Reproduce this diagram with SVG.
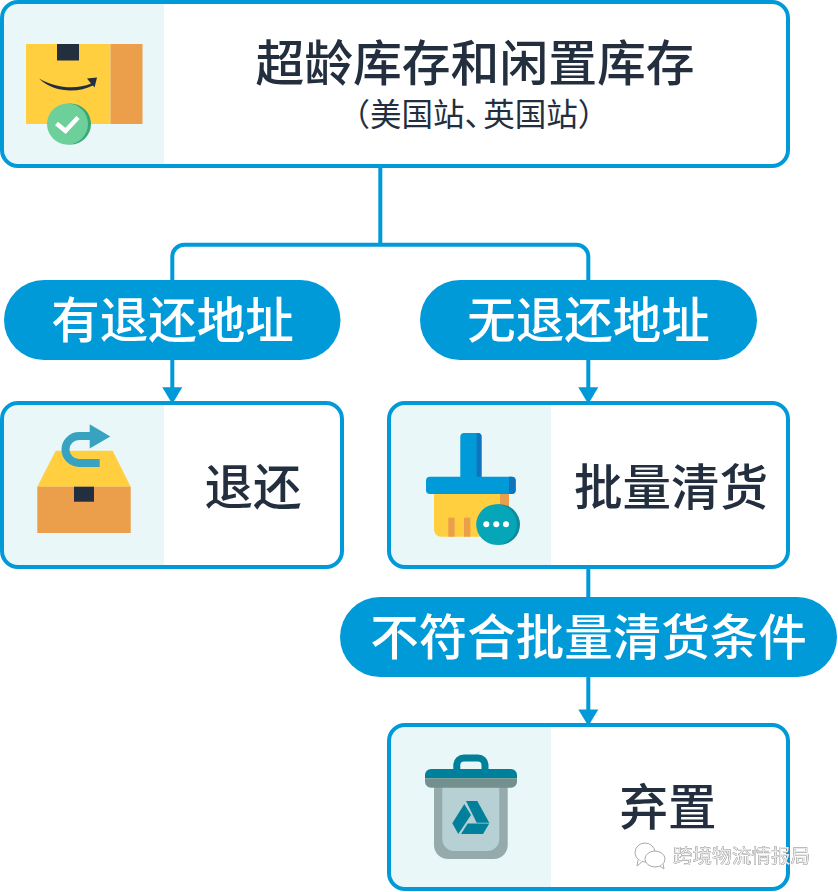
<svg xmlns="http://www.w3.org/2000/svg" width="838" height="892" viewBox="0 0 838 892">
<style>
text{font-family:"Noto Sans CJK SC","Noto Sans",sans-serif;text-anchor:middle;font-weight:500}
.lbl{font-size:48.500px;fill:#232f3e}
.pilltx{font-size:48.500px;fill:#fff}
.sub{font-size:31.500px;fill:#232f3e;font-weight:400;text-anchor:start}
.half{font-feature-settings:"halt"}
.frame{fill:none;stroke:#019ad9;stroke-width:4}
.pane{fill:#e9f7f9}
.pill{fill:#019ad9}
.conn{fill:none;stroke:#019ad9;stroke-width:4}
.head{fill:#019ad9}
.wm{fill:#e8e8e8;font-size:19.6px;filter:drop-shadow(.8px .8px .3px #222)}
.wi{fill:#fff;stroke:#aaa;stroke-width:1}
</style>
<rect width="838" height="892" fill="#fff"/>
<g id="connectors">
<path class="conn" d="M380.3 166V244.7"/>
<path class="conn" d="M172.3 280V256.7a12 12 0 0 1 12-12H576.3a12 12 0 0 1 12 12V280"/>
<path class="conn" d="M172.3 360V390"/>
<path class="conn" d="M588.3 360V390"/>
<path class="conn" d="M588.3 567V597"/>
<path class="conn" d="M588.3 677V712"/>
<path class="head" d="M162.3 387.3H182.3L172.3 404Z"/>
<path class="head" d="M578.3 387.3H598.3L588.3 404Z"/>
<path class="head" d="M578.3 709.5H598.3L588.3 726Z"/>
</g>
<g id="node-stock">
<path class="pane" d="M164 2H18a16 16 0 0 0-16 16V150a16 16 0 0 0 16 16H164Z"/>
<rect class="frame" x="2" y="2" width="786" height="164" rx="16"/>
<rect x="26" y="44" width="84.500" height="80" fill="#ffcf40"/>
<rect x="110.500" y="44" width="32" height="80" fill="#eb9f4a"/>
<rect x="57" y="44" width="22" height="16.500" fill="#232f3e"/>
<path d="M39 78.500C55 88 76 90 91 83.500L87 78.500 97 77.500 94.500 87.500 93 85.500C78 93 54 93 39 78.500Z" fill="#232f3e"/>
<circle cx="70.500" cy="124" r="20.500" fill="#3aa876"/>
<circle cx="67.500" cy="124" r="20.500" fill="#6dd09b"/>
<path d="M56.500 123.500L65.500 131 78 117.500" fill="none" stroke="#fff" stroke-width="4.500"/>
<text x="475" y="80.500" font-size="48.800" fill="#232f3e">超龄库存和闲置库存</text>
<text class="sub" x="338.500" y="126">（美国站<tspan class="half">、</tspan><tspan dx="3">英国站</tspan>）</text>
</g>
<g id="pill-has-address">
<rect class="pill" x="4" y="280" width="336.500" height="80" rx="40"/>
<text class="pilltx" x="172.500" y="338">有退还地址</text>
</g>
<g id="pill-no-address">
<rect class="pill" x="420" y="280" width="337" height="80" rx="40"/>
<text class="pilltx" x="588.500" y="338">无退还地址</text>
</g>
<g id="node-return">
<path class="pane" d="M164 403H18a16 16 0 0 0-16 16V551a16 16 0 0 0 16 16H164Z"/>
<rect class="frame" x="2" y="403" width="340" height="164" rx="16"/>
<path d="M55.700 450.700H112.700L130.700 486.700H37.300Z" fill="#ffcf40"/>
<rect x="37.300" y="486.700" width="93.400" height="46.300" fill="#eb9f4a"/>
<rect x="74" y="486.700" width="20" height="15" fill="#232f3e"/>
<path d="M90 436H79a13.500 13.500 0 0 0 0 27H99.700" fill="none" stroke="#38a3c1" stroke-width="8"/>
<path d="M89.700 424.300L110.300 436.500 89.700 448.500Z" fill="#38a3c1"/>
<text class="lbl" x="253" y="505">退还</text>
</g>
<g id="node-clearance">
<path class="pane" d="M551 403H405a16 16 0 0 0-16 16V551a16 16 0 0 0 16 16H551Z"/>
<rect class="frame" x="389" y="403" width="399" height="164" rx="16"/>
<path d="M434 494H509V536.700H441a7 7 0 0 1-7-7Z" fill="#ffcf40"/>
<rect x="500" y="494" width="9" height="15" fill="#eb9f4a"/>
<rect x="448.300" y="517.700" width="6.400" height="19" fill="#eb9f4a"/>
<rect x="464" y="517.700" width="6.400" height="19" fill="#eb9f4a"/>
<path d="M464 433H478a3.500 3.500 0 0 1 3.500 3.500V477H460.300V436.500a3.500 3.500 0 0 1 3.700-3.500Z" fill="#019ad9"/>
<path d="M476.700 433H478a3.500 3.500 0 0 1 3.500 3.500V477H476.700Z" fill="#0f74bd"/>
<rect x="426" y="476.700" width="89.700" height="17.300" rx="4" fill="#019ad9"/>
<path d="M509 476.700H511.700a4 4 0 0 1 4 4V490a4 4 0 0 1-4 4H509Z" fill="#0f74bd"/>
<circle cx="499.700" cy="524.500" r="20.300" fill="#0e8a9b"/>
<circle cx="496.500" cy="524.500" r="20.300" fill="#04a6b8"/>
<circle cx="486.300" cy="524.300" r="3" fill="#fff"/>
<circle cx="496.300" cy="524.300" r="3" fill="#fff"/>
<circle cx="506" cy="524.300" r="3" fill="#fff"/>
<text class="lbl" x="671" y="505">批量清货</text>
</g>
<g id="pill-not-eligible">
<rect class="pill" x="340" y="597" width="497" height="80" rx="40"/>
<text class="pilltx" x="588.500" y="655">不符合批量清货条件</text>
</g>
<g id="node-discard">
<path class="pane" d="M551 725H405a16 16 0 0 0-16 16V873a16 16 0 0 0 16 16H551Z"/>
<rect class="frame" x="389" y="725" width="399" height="164" rx="16"/>
<path d="M434 787H507.700V845a14 14 0 0 1-14 14H448a14 14 0 0 1-14-14Z" fill="#95abab"/>
<path d="M442.300 787H499.300V839a12 12 0 0 1-12 12H454.300a12 12 0 0 1-12-12Z" fill="#b7d0d4"/>
<path d="M456.800 769V765a7 7 0 0 1 7-7H478a7 7 0 0 1 7 7V769" fill="none" stroke="#00809a" stroke-width="7"/>
<path d="M431 769H511a6 6 0 0 1 6 6V778.300H425V775a6 6 0 0 1 6-6Z" fill="#00809a"/>
<path d="M425 778.300H517V781.700a6 6 0 0 1-6 6H431a6 6 0 0 1-6-6Z" fill="#73908f"/>
<path d="M464.300 804L471 815 458.300 834 452.300 823.300Z" fill="#00809a"/>
<path d="M466 801H477.300L489.300 822.700H476.700Z" fill="#00809a"/>
<path d="M467.700 823.500H489.300L483 834H461Z" fill="#00809a"/>
<text class="lbl" x="668" y="825">弃置</text>
</g>
<g id="watermark">
<ellipse class="wi" cx="645" cy="852.500" rx="10" ry="9.500"/>
<path class="wi" d="M638 860L637 866 643 861"/>
<ellipse class="wi" cx="655" cy="859" rx="10" ry="8"/>
<path class="wi" d="M660 866L664 869 663 864"/>
<text class="wm" x="741.500" y="863">跨境物流情报局</text>
</g>
</svg>
